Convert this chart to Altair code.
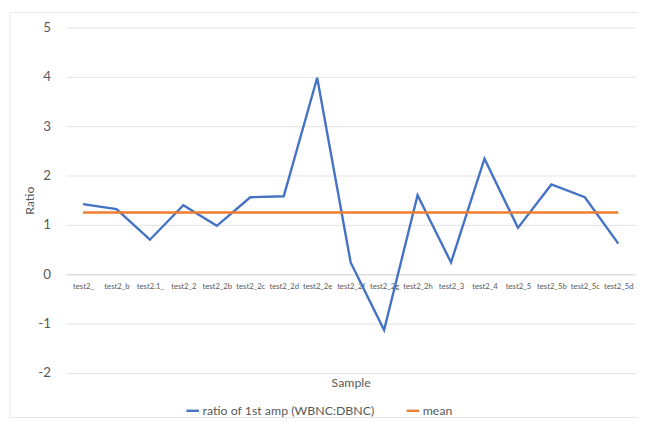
import altair as alt
import pandas as pd

samples = ["test2_", "test2_b", "test2.1_", "test2_2", "test2_2b", "test2_2c", "test2_2d",
           "test2_2e", "test2_2f", "test2_2g", "test2_2h", "test2_3", "test2_4", "test2_5",
           "test2_5b", "test2_5c", "test2_5d"]
ratio = [1.42, 1.32, 0.70, 1.40, 0.98, 1.56, 1.58, 3.98, 0.24, -1.13, 1.60, 0.24, 2.34,
         0.94, 1.82, 1.56, 0.62]
mean_val = [1.25] * len(samples)

S1 = "ratio of 1st amp (WBNC:DBNC)"
S2 = "mean"

rows = []
for i, s in enumerate(samples):
    rows.append({"Sample": s, "Ratio": ratio[i], "series": S1, "order": i})
for i, s in enumerate(samples):
    rows.append({"Sample": s, "Ratio": mean_val[i], "series": S2, "order": i})
df = pd.DataFrame(rows)

FONT = "Lato"
GREY = "#595959"
W, H = 576, 350

lines = alt.Chart(df).mark_line(strokeWidth=2.4).encode(
    x=alt.X("Sample:N", sort=samples,
            scale=alt.Scale(paddingInner=0, paddingOuter=0.5),
            axis=alt.Axis(title="Sample", labelAngle=0, labelFontSize=7.8, labelColor=GREY,
                          labelFont=FONT, labelOverlap=False, labelLimit=60, ticks=False,
                          domainColor="#d9d9d9", offset=-100, labelPadding=8,
                          titleFont=FONT, titleFontSize=12.5, titleFontWeight="normal",
                          titleColor=GREY, titleY=104, grid=False)),
    y=alt.Y("Ratio:Q", scale=alt.Scale(domain=[-2, 5], nice=False, zero=False),
            axis=alt.Axis(values=[-2, -1, 0, 1, 2, 3, 4, 5], labelExpr="'' + datum.value",
                          title="Ratio",
                          labelFontSize=13.5, labelColor=GREY, labelFont=FONT, ticks=False,
                          domain=False, labelPadding=16, gridColor="#e3e3e3",
                          titleFont=FONT, titleFontSize=12.5, titleFontWeight="normal",
                          titleColor=GREY, titleX=-30, titleY=H / 2)),
    color=alt.Color("series:N", scale=alt.Scale(domain=[S1, S2], range=["#4472C4", "#ED7D31"]),
                    legend=alt.Legend(title=None, orient="none", direction="horizontal",
                                      legendX=120, legendY=380, symbolType="stroke",
                                      symbolStrokeWidth=2.4, symbolSize=160,
                                      labelFont=FONT, labelFontSize=12.5, labelColor=GREY,
                                      labelLimit=300,
                                      columnPadding=26, symbolOffset=0, labelOffset=2)),
    order="order:Q",
)

one = pd.DataFrame({"a": [0]})
border_top = alt.Chart(one).mark_rule(stroke="#e6e6e6", strokeWidth=1).encode(
    x=alt.value(-57), x2=alt.value(W + 40), y=alt.value(-15))
border_left = alt.Chart(one).mark_rule(stroke="#e6e6e6", strokeWidth=1).encode(
    x=alt.value(-57), y=alt.value(-15), y2=alt.value(H + 45))
border_bottom = alt.Chart(one).mark_rule(stroke="#e6e6e6", strokeWidth=1).encode(
    x=alt.value(-57), x2=alt.value(W + 40), y=alt.value(H + 45))

chart = alt.layer(border_top, border_left, border_bottom, lines).properties(
    width=W, height=H,
    autosize=alt.AutoSizeParams(type="none"),
    padding={"left": 59, "top": 17, "right": 3, "bottom": 50},
).configure_view(stroke=None)

chart.save("out.html", embed_options={"renderer": "svg", "actions": False})
